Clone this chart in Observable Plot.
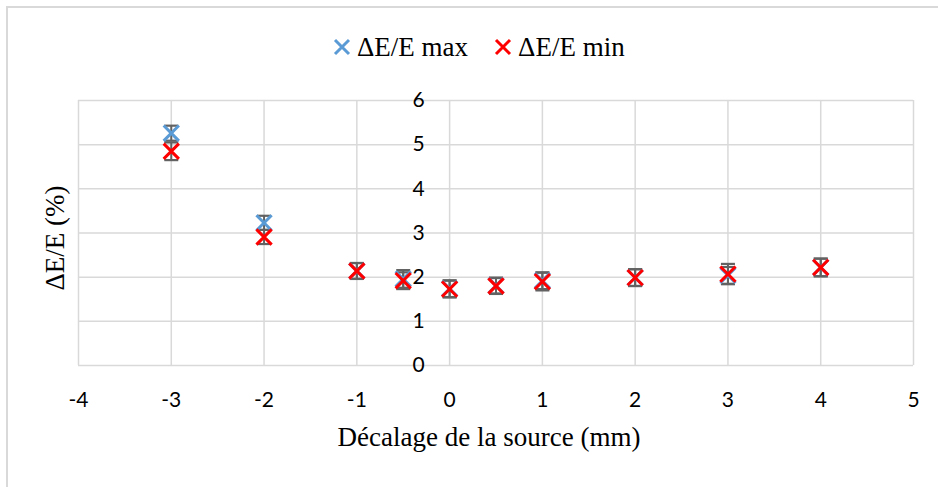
<!DOCTYPE html>
<html>
<head>
<meta charset="utf-8">
<script src="https://cdn.jsdelivr.net/npm/d3@7"></script>
<script src="https://cdn.jsdelivr.net/npm/@observablehq/plot@0.6"></script>
<style>
  html, body { margin: 0; padding: 0; background: #fff; }
  #wrap { position: relative; width: 938px; height: 487px; overflow: hidden; background: #fff; }
  #border { position: absolute; left: 6px; top: 6px; width: 1000px; height: 1000px;
            border-left: 2px solid #d9d9d9; border-top: 2px solid #d9d9d9; }
  #legend { position: absolute; left: 333px; top: 28px; height: 38px; display: flex; align-items: center;
            font-family: "Liberation Serif", "Times New Roman", serif; font-size: 27px; color: #000; }
  #legend .item { display: flex; align-items: center; margin-right: 26px; }
  #legend svg { margin-right: 6px; }
  #chart { position: absolute; left: 0; top: 80px; }
</style>
</head>
<body>
<div id="wrap">
  <div id="border"></div>
  <div id="legend"></div>
  <div id="chart"></div>
</div>
<script>
// ---- data ----
const offsets = [-3, -2, -1, -0.5, 0, 0.5, 1, 2, 3, 4];
const maxValues = [5.26, 3.23, 2.14, 1.96, 1.74, 1.81, 1.92, 1.99, 2.04, 2.22];
const maxErrors = [0.17, 0.16, 0.18, 0.20, 0.19, 0.18, 0.19, 0.19, 0.19, 0.20];
const minValues = [4.85, 2.91, 2.14, 1.92, 1.73, 1.80, 1.90, 1.99, 2.07, 2.22];
const minErrors = [0.20, 0.16, 0.18, 0.19, 0.19, 0.18, 0.20, 0.19, 0.23, 0.20];
const seriesNames = ["ΔE/E max", "ΔE/E min"];
const seriesColors = ["#5b9bd5", "#ff0000"];
const xTicks = [-4, -3, -2, -1, 0, 1, 2, 3, 4, 5];
const yTicks = [0, 1, 2, 3, 4, 5, 6];
const xTitle = "Décalage de la source (mm)";
const yTitle = "ΔE/E (%)";

// ---- table ----
const rows = [];
offsets.forEach((x, i) => {
  rows.push({x, y: maxValues[i], e: maxErrors[i], s: seriesNames[0]});
});
offsets.forEach((x, i) => {
  rows.push({x, y: minValues[i], e: minErrors[i], s: seriesNames[1]});
});
const caps = rows.flatMap(d => [{x: d.x, y: d.y - d.e}, {x: d.x, y: d.y + d.e}]);

// ---- legend ----
const legend = document.getElementById("legend");
seriesNames.forEach((name, i) => {
  const item = document.createElement("div");
  item.className = "item";
  item.innerHTML = `<svg width="18" height="18" viewBox="-9 -9 18 18"><path d="M-7,-7L7,7M-7,7L7,-7" stroke="${seriesColors[i]}" stroke-width="3" fill="none"/></svg><span>${name}</span>`;
  legend.appendChild(item);
});

const serif = '"Liberation Serif", "Times New Roman", serif';
const sans = 'Lato, "Open Sans", sans-serif';

// horizontal cap symbol for the error bars
const capSymbol = {
  draw(context, size) {
    const r = Math.sqrt(size / Math.PI);
    context.moveTo(-r, 0);
    context.lineTo(r, 0);
  }
};

const chart = Plot.plot({
  width: 938,
  height: 407,
  marginLeft: 78,
  marginRight: 25,
  marginTop: 20,
  marginBottom: 122,
  style: {background: "transparent"},
  x: {domain: [-4, 5], axis: null},
  y: {domain: [0, 6], axis: null},
  color: {domain: seriesNames, range: seriesColors},
  marks: [
    Plot.gridX(xTicks, {stroke: "#d9d9d9", strokeOpacity: 1, strokeWidth: 1.5}),
    Plot.gridY(yTicks, {stroke: "#d9d9d9", strokeOpacity: 1, strokeWidth: 1.5}),
    Plot.text(xTicks, {x: d => d, frameAnchor: "bottom", dy: 35, lineAnchor: "middle", textAnchor: "middle",
      text: d => String(d), fontFamily: sans, fontSize: 21, fill: "#000"}),
    Plot.text(yTicks, {x: 0, y: d => d, dx: -25, textAnchor: "end", lineAnchor: "middle",
      text: d => String(d), fontFamily: sans, fontSize: 21, fill: "#000"}),
    Plot.text([xTitle], {frameAnchor: "bottom", dy: 72, dx: -7, lineAnchor: "middle", textAnchor: "middle",
      text: d => d, fontFamily: serif, fontSize: 27, fill: "#000"}),
    Plot.text([yTitle], {frameAnchor: "left", dx: -23, dy: 5, rotate: -90, lineAnchor: "middle", textAnchor: "middle",
      text: d => d, fontFamily: serif, fontSize: 27, fill: "#000"}),
    Plot.ruleX(rows, {x: "x", y1: d => d.y - d.e, y2: d => d.y + d.e, stroke: "#626262", strokeWidth: 2}),
    Plot.dot(caps, {x: "x", y: "y", symbol: capSymbol, r: 7, stroke: "#626262", strokeWidth: 2.2, fill: "none"}),
    Plot.dot(rows, {x: "x", y: "y", symbol: "times", r: 7, stroke: "s", strokeWidth: 3})
  ]
});
document.getElementById("chart").appendChild(chart);
</script>
</body>
</html>
